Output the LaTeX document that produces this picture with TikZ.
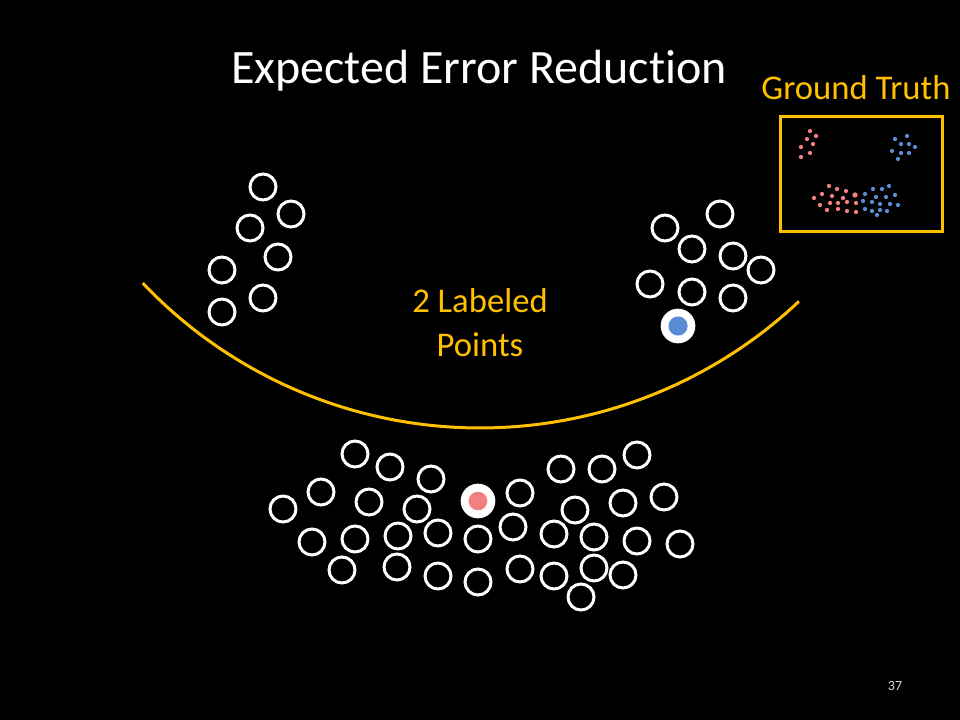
\documentclass[tikz,border=0pt]{standalone}
\usepackage{fontspec}
\setmainfont{Carlito}[Ligatures=NoCommon]
\usepackage{xcolor}
\usepackage{tikz}

\definecolor{gold}{RGB}{255,192,0}
\definecolor{ptred}{RGB}{242,128,128}
\definecolor{ptblue}{RGB}{88,141,214}
\newcommand{\rr}{9.75pt}

\begin{document}
\begin{tikzpicture}[x=0.75pt,y=-0.75pt,
  ring/.style={draw=white, line width=2.25pt},
  band/.style={draw=gold, line width=2.25pt},
  gold text/.style={text=gold, inner sep=0pt, anchor=base}]

% Slide background (pixel units, y down)
\fill[black] (0,0) rectangle (960,720);
\useasboundingbox (0,0) rectangle (960,720);

% Title and labels
\node[text=white, inner sep=0pt, anchor=base, font=\fontsize{36}{43}\selectfont] (title) at (479,84) {Expected Error Reduction};
\node[gold text, font=\fontsize{26}{31}\selectfont] (truth) at (856,100) {Ground Truth};
\node[gold text, font=\fontsize{26}{31}\selectfont] (lab) at (480,312) {2 Labeled};
\node[gold text, font=\fontsize{26}{31}\selectfont] (pts) at (480,356) {Points};
\node[text=white!85!black, inner sep=0pt, font=\fontsize{10.5}{12}\selectfont] (page) at (895,686) {37};

% The curved divider
\draw[band] plot[domain=46.7:136.5, samples=80] ({480+465*cos(\x)}, {-37+465*sin(\x)});

% Unlabeled points: upper left group
\draw[ring] (263,187) circle (\rr) (291,214) circle (\rr) (250,228) circle (\rr)
  (278,257) circle (\rr) (222,270) circle (\rr) (263,298) circle (\rr) (222,312) circle (\rr);

% Unlabeled points: upper right group
\draw[ring] (720,214) circle (\rr) (665,228) circle (\rr) (692,249) circle (\rr)
  (733,256) circle (\rr) (761,270) circle (\rr) (650,284) circle (\rr)
  (692,292) circle (\rr) (733,298) circle (\rr);

% Unlabeled points: lower group
\draw[ring] (355,454) circle (\rr) (390,467) circle (\rr) (431,479) circle (\rr)
  (561,469) circle (\rr) (602,469) circle (\rr) (637,455) circle (\rr);
\draw[ring] (321,492) circle (\rr) (283,509) circle (\rr) (369,502) circle (\rr)
  (417,509) circle (\rr) (520,493) circle (\rr) (575,510) circle (\rr)
  (623,503) circle (\rr) (664,497) circle (\rr);
\draw[ring] (312,542) circle (\rr) (355,539) circle (\rr) (398,536) circle (\rr)
  (438,533) circle (\rr) (478,539) circle (\rr) (513,527) circle (\rr)
  (554,534) circle (\rr) (594,537) circle (\rr) (637,541) circle (\rr) (680,544) circle (\rr);
\draw[ring] (342,570) circle (\rr) (397,567) circle (\rr) (438,576) circle (\rr)
  (478,582) circle (\rr) (520,569) circle (\rr) (554,576) circle (\rr)
  (594,568) circle (\rr) (623,575) circle (\rr) (581,597) circle (\rr);

% The two labeled points
\fill[white] (678,326) circle (13pt) (478,501) circle (13pt);
\fill[ptblue] (678,326) circle (7.2pt);
\fill[ptred] (478,501) circle (7pt);

% Ground truth inset
\draw[band] (780,117) rectangle (942,232);
\fill[ptred] (810,131) circle (1.6pt) (816,136) circle (1.6pt) (807,139) circle (1.6pt)
  (813,144) circle (1.6pt) (801,147) circle (1.6pt) (810,153) circle (1.6pt) (801,157) circle (1.6pt);
\fill[ptblue] (907,136) circle (1.6pt) (895,139) circle (1.6pt) (901,144) circle (1.6pt)
  (909,144) circle (1.6pt) (915,147) circle (1.6pt) (892,151) circle (1.6pt)
  (901,153) circle (1.6pt) (909,153) circle (1.6pt) (898,159) circle (1.6pt);
\fill[ptred] (829,186) circle (1.6pt) (837,189) circle (1.6pt) (846,191) circle (1.6pt)
  (822,194) circle (1.6pt) (832,196) circle (1.6pt) (843,198) circle (1.6pt)
  (855,195) circle (2pt) (814,198) circle (1.6pt) (820,205) circle (1.6pt)
  (830,203) circle (1.6pt) (838,203) circle (1.6pt) (847,202) circle (1.6pt)
  (856,203) circle (1.6pt) (827,210) circle (1.6pt) (838,209) circle (1.6pt)
  (847,211) circle (1.6pt) (856,212) circle (1.6pt);
\fill[ptblue] (865,194) circle (1.6pt) (873,189) circle (1.6pt) (882,189) circle (1.6pt)
  (889,186) circle (1.6pt) (895,195) circle (1.6pt) (876,197) circle (1.6pt)
  (886,197) circle (1.6pt) (863,201) circle (1.6pt) (872,202) circle (1.6pt)
  (880,204) circle (1.6pt) (890,204) circle (1.6pt) (898,205) circle (1.6pt)
  (865,209) circle (1.6pt) (872,211) circle (1.6pt) (880,210) circle (1.6pt)
  (887,211) circle (1.6pt) (877,215) circle (1.6pt);

\end{tikzpicture}
\end{document}
